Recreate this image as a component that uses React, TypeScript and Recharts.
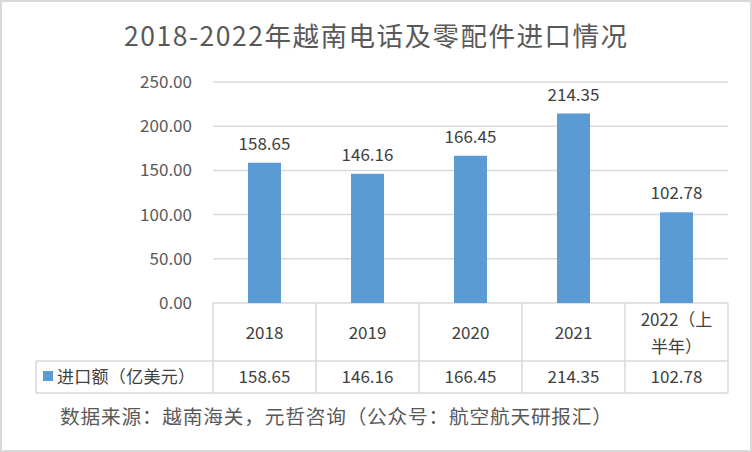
import React from "react";
import { BarChart, Bar, XAxis, YAxis, CartesianGrid, LabelList } from "recharts";

const years = ["2018", "2019", "2020", "2021", "2022（上半年）"];
const imports = [158.65, 146.16, 166.45, 214.35, 102.78];
const yTicks = [0, 50, 100, 150, 200, 250];
const seriesName = "进口额（亿美元）";
const title = "2018-2022年越南电话及零配件进口情况";
const source = "数据来源：越南海关，元哲咨询（公众号：航空航天研报汇）";

const data = years.map((year, i) => ({ year, value: imports[i] }));

const W = 752;
const H = 452;
const PLOT_LEFT = 213;
const PLOT_RIGHT = 728;
const PLOT_TOP = 82;
const PLOT_BOTTOM = 303;
const ROW1 = 361;
const ROW2 = 393;
const TABLE_LEFT = 36;
const FONT = '"Noto Sans CJK SC", "Noto Sans", sans-serif';
const GRID = "#d9d9d9";
const BAR = "#5b9bd5";
const TEXT = "#404040";
const AXIS_TEXT = "#595959";

const wrapLabel = (s: string): string[] => {
  if (s.length <= 6) return [s];
  return [s.slice(0, 6), s.slice(6)];
};

const YTick = (props: any) => {
  const { y, payload } = props;
  return (
    <text x={192} y={y} dy={6} textAnchor="end" fontSize={17} fill={AXIS_TEXT} fontFamily={FONT}>
      {Number(payload.value).toFixed(2)}
    </text>
  );
};

const XTick = (props: any) => {
  const { x, payload, index } = props;
  const band = (PLOT_RIGHT - PLOT_LEFT) / years.length;
  const lines = wrapLabel(String(payload.value));
  const headerMid = (PLOT_BOTTOM + ROW1) / 2 + 1;
  const lh = 27;
  const isLast = index === years.length - 1;
  return (
    <g>
      <line x1={x - band / 2} x2={x - band / 2} y1={PLOT_BOTTOM} y2={ROW2} stroke={GRID} strokeWidth={1.5} />
      {isLast && (
        <line x1={x + band / 2} x2={x + band / 2} y1={PLOT_BOTTOM} y2={ROW2} stroke={GRID} strokeWidth={1.5} />
      )}
      {index === 0 && (
        <g>
          <line x1={TABLE_LEFT} x2={PLOT_RIGHT} y1={ROW1} y2={ROW1} stroke={GRID} strokeWidth={1.5} />
          <line x1={TABLE_LEFT} x2={PLOT_RIGHT} y1={ROW2} y2={ROW2} stroke={GRID} strokeWidth={1.5} />
          <line x1={TABLE_LEFT} x2={TABLE_LEFT} y1={ROW1} y2={ROW2} stroke={GRID} strokeWidth={1.5} />
          <rect x={43} y={371} width={10} height={10} fill={BAR} />
          <text
            x={57}
            y={377}
            dy={6}
            fontSize={17}
            fill={TEXT}
            fontFamily={FONT}
            textLength={138}
            lengthAdjust="spacing"
          >
            {seriesName}
          </text>
        </g>
      )}
      {lines.map((ln, i) => (
        <text
          key={i}
          x={x}
          y={headerMid + (i - (lines.length - 1) / 2) * lh}
          dy={6}
          textAnchor="middle"
          fontSize={17}
          fill={TEXT}
          fontFamily={FONT}
        >
          {ln}
        </text>
      ))}
      <text x={x} y={377} dy={6} textAnchor="middle" fontSize={17} fill={TEXT} fontFamily={FONT}>
        {imports[index].toFixed(2)}
      </text>
    </g>
  );
};

export default function App() {
  return (
    <div
      style={{
        position: "absolute",
        left: 0,
        top: 0,
        width: W,
        height: H,
        boxSizing: "border-box",
        border: "2px solid #d9d9d9",
        background: "#fff",
      }}
    >
      <div style={{ position: "absolute", left: -2, top: -2 }}>
        <BarChart
          width={W}
          height={H}
          data={data}
          margin={{ top: PLOT_TOP, right: W - PLOT_RIGHT, bottom: 0, left: 0 }}
        >
          <CartesianGrid horizontal vertical={false} stroke={GRID} strokeWidth={1.5} />
          <YAxis
            width={PLOT_LEFT}
            domain={[0, 250]}
            ticks={yTicks}
            axisLine={false}
            tickLine={false}
            tick={(p: any) => <YTick {...p} />}
            interval={0}
          />
          <XAxis
            dataKey="year"
            height={H - PLOT_BOTTOM}
            axisLine={false}
            tickLine={false}
            interval={0}
            tick={(p: any) => <XTick {...p} />}
          />
          <Bar dataKey="value" fill={BAR} barSize={33} isAnimationActive={false}>
            <LabelList
              dataKey="value"
              position="top"
              offset={13}
              fill={TEXT}
              fontSize={17}
              fontFamily={FONT}
              formatter={(v: any) => Number(v).toFixed(2)}
            />
          </Bar>
        </BarChart>
        <svg
          width={W}
          height={H}
          style={{ position: "absolute", left: 0, top: 0, pointerEvents: "none" }}
        >
          <text
            x={124}
            y={37}
            dy={9}
            fontSize={26.5}
            fill={AXIS_TEXT}
            fontFamily={FONT}
            textLength={503}
            lengthAdjust="spacing"
          >
            {title}
          </text>
          <text
            x={60}
            y={417}
            dy={7}
            fontSize={19.7}
            fill={AXIS_TEXT}
            fontFamily={FONT}
            textLength={552}
            lengthAdjust="spacing"
          >
            {source}
          </text>
        </svg>
      </div>
    </div>
  );
}
